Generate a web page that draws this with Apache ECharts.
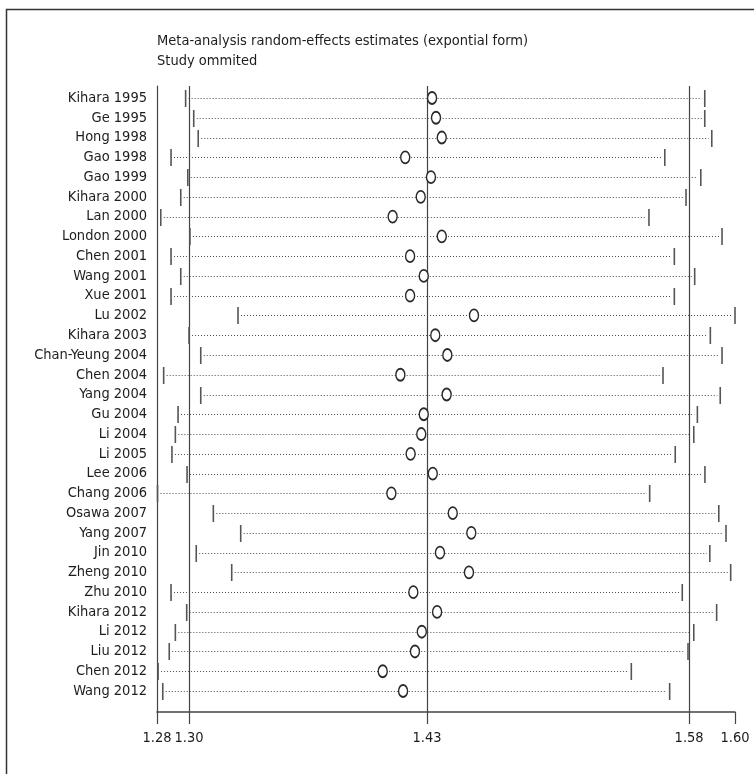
<!DOCTYPE html>
<html>
<head>
<meta charset="utf-8">
<script src="https://cdn.jsdelivr.net/npm/echarts@6/dist/echarts.min.js"></script>
<style>html,body{margin:0;padding:0;background:#fff;}#c{width:754px;height:774px;}</style>
</head>
<body>
<div id="c"></div>
<script>
const studies = ['Kihara 1995','Ge 1995','Hong 1998','Gao 1998','Gao 1999','Kihara 2000','Lan 2000','London 2000','Chen 2001','Wang 2001','Xue 2001','Lu 2002','Kihara 2003','Chan-Yeung 2004','Chen 2004','Yang 2004','Gu 2004','Li 2004','Li 2005','Lee 2006','Chang 2006','Osawa 2007','Yang 2007','Jin 2010','Zheng 2010','Zhu 2010','Kihara 2012','Li 2012','Liu 2012','Chen 2012','Wang 2012'];
const lower = [1.2969,1.3014,1.3039,1.2888,1.2981,1.2942,1.2831,1.2993,1.2888,1.2942,1.2888,1.3260,1.2988,1.3053,1.2847,1.3053,1.2927,1.2912,1.2893,1.2977,1.2813,1.3123,1.3275,1.3028,1.3225,1.2888,1.2975,1.2912,1.2878,1.2816,1.2842];
const estimate = [1.4338,1.4360,1.4392,1.4189,1.4332,1.4275,1.4119,1.4392,1.4216,1.4292,1.4216,1.4571,1.4356,1.4423,1.4162,1.4419,1.4292,1.4278,1.4219,1.4342,1.4112,1.4453,1.4556,1.4382,1.4543,1.4234,1.4366,1.4281,1.4243,1.4064,1.4177];
const upper = [1.5853,1.5853,1.5892,1.5631,1.5831,1.5749,1.5543,1.5949,1.5684,1.5797,1.5684,1.6021,1.5884,1.5949,1.5621,1.5939,1.5812,1.5792,1.5689,1.5854,1.5547,1.5931,1.5971,1.5881,1.5997,1.5728,1.5919,1.5792,1.5760,1.5445,1.5658];
const refLines = [1.2988, 1.4310, 1.5766];
const tickValues = [1.2810, 1.2988, 1.4310, 1.5766, 1.6021];
const tickLabels = ['1.28','1.30','1.43','1.58','1.60'];
const titleLines = ['Meta-analysis random-effects estimates (expontial form)','Study ommited'];

const FONT = "'DejaVu Sans Condensed','Liberation Sans Narrow','Noto Sans',sans-serif";
const FS = 14.5;
const rows = studies.map((s, i) => i + 1);

const chart = echarts.init(document.getElementById('c'), null, {renderer: 'canvas'});
const option = {
  animation: false,
  backgroundColor: '#fff',
  title: {
    text: titleLines.join('\n'),
    left: 152, top: 26,
    textStyle: {fontFamily: FONT, fontSize: FS, fontWeight: 'normal', color: '#1e1c1d', lineHeight: 20}
  },
  graphic: [{
    type: 'rect', shape: {x: 6.5, y: 9.5, width: 900, height: 900},
    style: {fill: 'none', stroke: '#333', lineWidth: 1.5}, silent: true
  }],
  grid: {left: 157, right: 19, top: 86, bottom: 62, containLabel: false},
  xAxis: {
    type: 'value', min: tickValues[0], max: tickValues[tickValues.length - 1],
    splitLine: {show: false},
    axisLine: {show: true, lineStyle: {color: '#444', width: 1.5}},
    axisTick: {show: true, customValues: tickValues, length: 12, inside: false, lineStyle: {color: '#444', width: 1.2}},
    axisLabel: {
      customValues: tickValues, margin: 19, color: '#1e1c1d', fontFamily: FONT, fontSize: FS,
      hideOverlap: false, showMinLabel: true, showMaxLabel: true,
      formatter: v => { let best = 0; tickValues.forEach((t, i) => { if (Math.abs(t - v) < Math.abs(tickValues[best] - v)) best = i; }); return tickLabels[best]; }
    }
  },
  yAxis: {
    type: 'value', inverse: true, min: 0.393, max: 32.062,
    splitLine: {show: false},
    axisLine: {show: true, lineStyle: {color: '#444', width: 1.2}},
    axisTick: {show: false},
    axisLabel: {
      customValues: rows, margin: 10, color: '#1e1c1d', fontFamily: FONT, fontSize: FS,
      hideOverlap: false,
      formatter: v => studies[Math.round(v) - 1] || ''
    }
  },
  series: [
    {
      type: 'custom',
      data: refLines.map(v => [v]),
      encode: {x: 0},
      z: 2,
      renderItem: function (params, api) {
        const cs = params.coordSys;
        const x = Math.round(api.coord([api.value(0), 1])[0]) + 0.5;
        return {type: 'line', shape: {x1: x, y1: cs.y, x2: x, y2: cs.y + cs.height},
                style: {stroke: '#444', lineWidth: 1.2}};
      }
    },
    {
      type: 'custom',
      data: studies.map((s, i) => [lower[i], upper[i], i + 1]),
      encode: {x: [0, 1], y: 2},
      z: 3,
      renderItem: function (params, api) {
        const lo = api.coord([api.value(0), api.value(2)]);
        const hi = api.coord([api.value(1), api.value(2)]);
        const y = Math.round(lo[1]) + 0.5;
        const h = 8.5;
        return {
          type: 'group',
          children: [
            {type: 'line', shape: {x1: lo[0] + 3, y1: y, x2: hi[0] - 3, y2: y},
             style: {stroke: '#4a4a4a', lineWidth: 1, lineDash: [1, 2]}},
            {type: 'line', shape: {x1: lo[0], y1: y - h, x2: lo[0], y2: y + h},
             style: {stroke: '#555', lineWidth: 1.6}},
            {type: 'line', shape: {x1: hi[0], y1: y - h, x2: hi[0], y2: y + h},
             style: {stroke: '#555', lineWidth: 1.6}}
          ]
        };
      }
    },
    {
      type: 'scatter',
      data: studies.map((s, i) => [estimate[i], i + 1]),
      symbol: 'circle',
      symbolSize: [9, 12],
      z: 5,
      itemStyle: {color: '#fff', borderColor: '#2a2a2a', borderWidth: 1.6, opacity: 1}
    }
  ]
};
chart.setOption(option);
</script>
</body>
</html>
